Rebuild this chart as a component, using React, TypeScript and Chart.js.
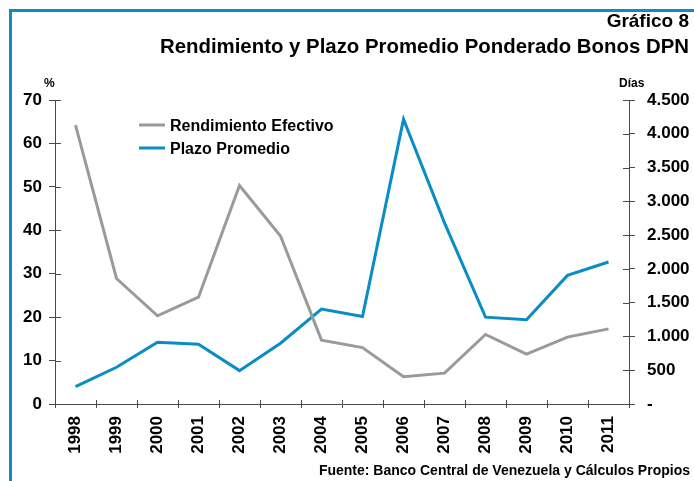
import React, { useEffect, useRef } from 'react';
import { Chart, registerables } from 'chart.js';

Chart.register(...registerables);

const years = ['1998', '1999', '2000', '2001', '2002', '2003', '2004', '2005', '2006', '2007', '2008', '2009', '2010', '2011'];
const rendimiento = [64.2, 28.9, 20.3, 24.6, 50.3, 38.7, 14.7, 13.0, 6.3, 7.1, 16.0, 11.5, 15.4, 17.3];
const plazo = [257, 544, 915, 886, 494, 900, 1405, 1295, 4214, 2681, 1286, 1246, 1904, 2102];
const leftTicks = ['0', '10', '20', '30', '40', '50', '60', '70'];
const rightTicks = ['-', '500', '1.000', '1.500', '2.000', '2.500', '3.000', '3.500', '4.000', '4.500'];
const seriesNames = ['Rendimiento Efectivo', 'Plazo Promedio'];

const FONT = "'Liberation Sans', Arial, Helvetica, sans-serif";
const GREY = '#9a9a9a';
const BLUE = '#0a8dc3';
const AXIS = '#4a4a4a';

const innerTicks = {
  id: 'innerTicks',
  afterDraw(chart: any) {
    const ctx = chart.ctx;
    const { x, y, y1 } = chart.scales;
    ctx.save();
    ctx.strokeStyle = AXIS;
    ctx.lineWidth = 1;
    ctx.beginPath();
    y.ticks.forEach((_: any, i: number) => {
      const py = Math.round(y.getPixelForTick(i)) + 0.5;
      ctx.moveTo(y.right, py);
      ctx.lineTo(y.right + 6, py);
    });
    y1.ticks.forEach((_: any, i: number) => {
      const py = Math.round(y1.getPixelForTick(i)) + 0.5;
      ctx.moveTo(y1.left, py);
      ctx.lineTo(y1.left - 6, py);
    });
    for (let i = 0; i <= years.length; i++) {
      const px = Math.round(x.getPixelForValue(i - 0.5)) + 0.5;
      ctx.moveTo(px, x.top);
      ctx.lineTo(px, x.top - 4);
    }
    ctx.stroke();
    ctx.restore();
  },
};

const customLegend = {
  id: 'customLegend',
  afterDatasetsDraw(chart: any) {
    const ctx = chart.ctx;
    const left = chart.chartArea.left + 84;
    const rows = [125, 148];
    ctx.save();
    chart.data.datasets.forEach((ds: any, i: number) => {
      const yc = rows[i];
      ctx.strokeStyle = ds.borderColor;
      ctx.lineWidth = 3;
      ctx.beginPath();
      ctx.moveTo(left, yc);
      ctx.lineTo(left + 26, yc);
      ctx.stroke();
      ctx.fillStyle = '#000';
      ctx.font = `bold 16px ${FONT}`;
      ctx.textBaseline = 'alphabetic';
      ctx.textAlign = 'left';
      ctx.fillText(ds.label, left + 31, yc + 6);
    });
    ctx.restore();
  },
};

export default function App() {
  const ref = useRef<HTMLCanvasElement | null>(null);

  useEffect(() => {
    if (!ref.current) return;
    const tickFont = { size: 17, weight: 'bold' as const, family: FONT };
    const chart = new Chart(ref.current, {
      type: 'line',
      data: {
        labels: years,
        datasets: [
          {
            label: seriesNames[0],
            data: rendimiento,
            borderColor: GREY,
            backgroundColor: GREY,
            borderWidth: 3,
            pointRadius: 0,
            tension: 0,
            yAxisID: 'y',
          },
          {
            label: seriesNames[1],
            data: plazo,
            borderColor: BLUE,
            backgroundColor: BLUE,
            borderWidth: 3,
            pointRadius: 0,
            tension: 0,
            yAxisID: 'y1',
          },
        ],
      },
      options: {
        responsive: false,
        animation: false,
        devicePixelRatio: 1,
        layout: { padding: { top: 100, left: 0, right: 0, bottom: 0 } },
        plugins: {
          legend: { display: false },
          title: { display: false },
          tooltip: { enabled: false },
        },
        scales: {
          x: {
            type: 'category',
            offset: true,
            grid: { drawOnChartArea: false, tickLength: 4, color: AXIS, offset: true },
            border: { color: AXIS },
            ticks: {
              minRotation: 90,
              maxRotation: 90,
              autoSkip: false,
              padding: 8,
              color: '#000',
              font: tickFont,
            },
            afterFit: (s: any) => {
              s.height = 77;
            },
          },
          y: {
            position: 'left',
            min: 0,
            max: 70,
            grid: { drawOnChartArea: false, tickLength: 6, color: AXIS },
            border: { color: AXIS },
            ticks: {
              stepSize: 10,
              padding: 7,
              color: '#000',
              font: tickFont,
              callback: (_v: any, i: number) => leftTicks[i],
            },
            afterFit: (s: any) => {
              s.width = 55;
            },
          },
          y1: {
            position: 'right',
            min: 0,
            max: 4500,
            grid: { drawOnChartArea: false, tickLength: 6, color: AXIS },
            border: { color: AXIS },
            ticks: {
              stepSize: 500,
              padding: 12,
              color: '#000',
              font: tickFont,
              callback: (_v: any, i: number) => rightTicks[i],
            },
            afterFit: (s: any) => {
              s.width = 65;
            },
          },
        },
      },
      plugins: [innerTicks, customLegend],
    });
    return () => chart.destroy();
  }, []);

  const txt: React.CSSProperties = {
    position: 'absolute',
    fontFamily: FONT,
    fontWeight: 'bold',
    color: '#000',
    whiteSpace: 'nowrap',
  };

  return (
    <div style={{ position: 'fixed', left: 0, top: 0, width: 694, height: 481, overflow: 'hidden', background: '#fff' }}>
      <canvas ref={ref} width={694} height={481} style={{ position: 'absolute', left: 0, top: 0, width: 694, height: 481 }} />
      <div style={{ position: 'absolute', left: 9, top: 9, width: 3, height: 480, background: BLUE }} />
      <div style={{ position: 'absolute', left: 9, top: 9, width: 690, height: 3, background: BLUE }} />
      <div style={{ ...txt, right: 5, top: 11, fontSize: 19, lineHeight: '20px' }}>Gráfico 8</div>
      <div style={{ ...txt, right: 5, top: 36, fontSize: 20.4, lineHeight: '20px' }}>Rendimiento y Plazo Promedio Ponderado Bonos DPN</div>
      <div style={{ ...txt, left: 44, top: 76, fontSize: 12, lineHeight: '14px' }}>%</div>
      <div style={{ ...txt, left: 619, top: 76, fontSize: 12, lineHeight: '14px' }}>Días</div>
      <div style={{ ...txt, right: 4, top: 463, fontSize: 14, lineHeight: '14px' }}>Fuente: Banco Central de Venezuela y Cálculos Propios</div>
    </div>
  );
}
